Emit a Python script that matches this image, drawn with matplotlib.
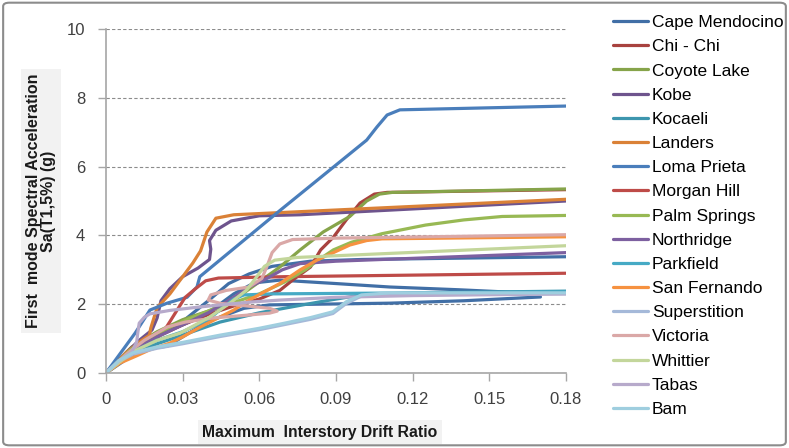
import matplotlib.pyplot as plt
from matplotlib.patches import FancyBboxPatch

plt.rcParams['font.family'] = ['Liberation Sans', 'DejaVu Sans']

# ---- data (drift ratio, Sa in g) ----
cape_x = [0, 0.01, 0.02, 0.03, 0.04, 0.048, 0.056, 0.065, 0.08, 0.1, 0.18]
cape_y = [0, 0.7, 1.1, 1.5, 2.1, 2.6, 2.88, 3.1, 3.25, 3.3, 3.38]
chichi_x = [0, 0.01, 0.02, 0.03, 0.04, 0.05, 0.06, 0.068, 0.073, 0.08, 0.084, 0.089, 0.094, 0.0994, 0.105, 0.11, 0.18]
chichi_y = [0, 0.6, 1.05, 1.4, 1.7, 1.95, 2.15, 2.4, 2.7, 3.08, 3.58, 3.95, 4.45, 4.94, 5.2, 5.25, 5.33]
coyote_x = [0, 0.01, 0.02, 0.03, 0.04, 0.05, 0.06, 0.068, 0.076, 0.085, 0.0954, 0.102, 0.107, 0.112, 0.18]
coyote_y = [0, 0.75, 1.2, 1.55, 1.8, 2.12, 2.65, 3.08, 3.58, 4.1, 4.55, 5.0, 5.2, 5.25, 5.35]
kobe_x = [0, 0.008, 0.013, 0.018, 0.02, 0.0215, 0.025, 0.03, 0.036, 0.0405, 0.041, 0.0405, 0.043, 0.049, 0.06, 0.076, 0.18]
kobe_y = [0, 0.6, 0.95, 1.25, 1.6, 2.1, 2.45, 2.8, 3.05, 3.3, 3.6, 3.85, 4.15, 4.42, 4.57, 4.6, 5.0]
kocaeli_x = [0, 0.01, 0.02, 0.03, 0.0446, 0.06, 0.077, 0.0876, 0.1, 0.12, 0.18]
kocaeli_y = [0, 0.55, 0.85, 1.1, 1.48, 1.75, 1.98, 2.12, 2.27, 2.33, 2.38]
landers_x = [0, 0.008, 0.014, 0.017, 0.0175, 0.02, 0.025, 0.029, 0.034, 0.037, 0.0395, 0.043, 0.05, 0.076, 0.18]
landers_y = [0, 0.6, 0.95, 1.1, 1.3, 1.9, 2.3, 2.7, 3.2, 3.55, 4.1, 4.5, 4.6, 4.69, 5.05]
loma_x = [0, 0.0114, 0.0172, 0.0239, 0.0317, 0.0356, 0.0367, 0.068, 0.102, 0.106, 0.11, 0.115, 0.18]
loma_y = [0, 1.16, 1.83, 2.03, 2.2, 2.5, 2.8, 4.72, 6.77, 7.15, 7.5, 7.65, 7.76]
morgan_x = [0, 0.008, 0.015, 0.019, 0.0225, 0.0254, 0.028, 0.031, 0.035, 0.039, 0.044, 0.07, 0.18]
morgan_y = [0, 0.5, 0.8, 0.96, 1.2, 1.54, 1.85, 2.2, 2.45, 2.68, 2.76, 2.8, 2.9]
palm_x = [0, 0.01, 0.02, 0.03, 0.04, 0.05, 0.06, 0.07, 0.078, 0.083, 0.089, 0.096, 0.108, 0.125, 0.14, 0.155, 0.18]
palm_y = [0, 0.7, 1.15, 1.5, 1.8, 2.05, 2.3, 2.65, 3.0, 3.28, 3.58, 3.8, 4.05, 4.3, 4.45, 4.55, 4.58]
north_x = [0, 0.01, 0.02, 0.03, 0.04, 0.05, 0.056, 0.063, 0.069, 0.076, 0.09, 0.18]
north_y = [0, 0.65, 1.05, 1.4, 1.75, 2.2, 2.5, 2.75, 3.0, 3.18, 3.25, 3.5]
park_x = [0, 0.01, 0.02, 0.03, 0.04, 0.046, 0.05, 0.054, 0.065, 0.18]
park_y = [0, 0.6, 0.95, 1.2, 1.55, 1.92, 2.15, 2.27, 2.3, 2.36]
sanfer_x = [0, 0.0055, 0.012, 0.017, 0.025, 0.03, 0.037, 0.05, 0.056, 0.068, 0.076, 0.0825, 0.089, 0.0954, 0.102, 0.108, 0.18]
sanfer_y = [0, 0.29, 0.5, 0.67, 0.87, 1.05, 1.34, 1.83, 2.12, 2.6, 3.0, 3.28, 3.5, 3.72, 3.85, 3.9, 3.96]
super_x = [0, 0.005, 0.0106, 0.02, 0.03, 0.0446, 0.06, 0.07, 0.08, 0.0888, 0.094, 0.1, 0.111, 0.18]
super_y = [0, 0.33, 0.55, 0.72, 0.85, 1.06, 1.26, 1.41, 1.56, 1.73, 2.02, 2.24, 2.3, 2.3]
victoria_x = [0, 0.008, 0.015, 0.024, 0.031, 0.042, 0.055, 0.064, 0.067, 0.064, 0.055, 0.045, 0.04, 0.041, 0.047,
              0.056, 0.061, 0.063, 0.065, 0.068, 0.073, 0.09, 0.18]
victoria_y = [0, 0.55, 0.95, 1.34, 1.48, 1.6, 1.68, 1.74, 1.8, 1.88, 1.95, 2.02, 2.12, 2.27, 2.4,
              2.5, 2.75, 3.1, 3.5, 3.75, 3.88, 3.92, 4.02]
whittier_x = [0, 0.01, 0.02, 0.029, 0.04, 0.0485, 0.055, 0.059, 0.062, 0.066, 0.075, 0.18]
whittier_y = [0, 0.6, 0.95, 1.16, 1.6, 2.03, 2.41, 2.8, 3.1, 3.28, 3.36, 3.7]
tabas_x = [0, 0.005, 0.01, 0.012, 0.0125, 0.013, 0.015, 0.0172, 0.025, 0.0367, 0.056, 0.068, 0.09, 0.12, 0.18]
tabas_y = [0, 0.35, 0.6, 0.9, 1.2, 1.45, 1.62, 1.72, 1.82, 1.92, 2.06, 2.12, 2.2, 2.25, 2.3]
bam_x = [0, 0.005, 0.0106, 0.02, 0.03, 0.0446, 0.06, 0.07, 0.08, 0.0888, 0.094, 0.1, 0.111, 0.18]
bam_y = [0, 0.36, 0.59, 0.76, 0.89, 1.1, 1.3, 1.45, 1.61, 1.78, 2.07, 2.27, 2.33, 2.33]
# two unlabelled dark blue curves in the original
extra1_x = [0, 0.01, 0.02, 0.03, 0.04, 0.05, 0.058, 0.068, 0.09, 0.111, 0.138, 0.158, 0.18]
extra1_y = [0, 0.65, 1.1, 1.4, 1.75, 2.3, 2.62, 2.7, 2.6, 2.5, 2.42, 2.35, 2.33]
extra2_x = [0, 0.01, 0.015, 0.024, 0.03, 0.04, 0.054, 0.064, 0.111, 0.14, 0.17]
extra2_y = [0, 0.5, 0.7, 0.78, 1.05, 1.5, 1.88, 1.98, 2.03, 2.1, 2.21]

names = ['Cape Mendocino', 'Chi - Chi', 'Coyote Lake', 'Kobe', 'Kocaeli', 'Landers',
         'Loma Prieta', 'Morgan Hill', 'Palm Springs', 'Northridge', 'Parkfield',
         'San Fernando', 'Superstition', 'Victoria', 'Whittier', 'Tabas', 'Bam']
xs = [cape_x, chichi_x, coyote_x, kobe_x, kocaeli_x, landers_x, loma_x, morgan_x, palm_x,
      north_x, park_x, sanfer_x, super_x, victoria_x, whittier_x, tabas_x, bam_x]
ys = [cape_y, chichi_y, coyote_y, kobe_y, kocaeli_y, landers_y, loma_y, morgan_y, palm_y,
      north_y, park_y, sanfer_y, super_y, victoria_y, whittier_y, tabas_y, bam_y]
colors = ['#416FA6', '#A8423F', '#86A44A', '#6E548D', '#3D96AE', '#DA8137',
          '#4A7EBB', '#BE4B48', '#98B954', '#7D60A0', '#46AAC5', '#F69240',
          '#A5B9D9', '#DAA8A7', '#C3D69B', '#B7AACB', '#9FCEDF']

fig = plt.figure(figsize=(7.89, 4.48), dpi=100)
ax = fig.add_axes([106 / 789, 1 - 373 / 448, 460 / 789, 344 / 448])

# outer chart border
fig.patches.append(FancyBboxPatch((0.004, 0.006), 0.992, 0.988, boxstyle='round,pad=0,rounding_size=0.008',
                                  transform=fig.transFigure, fill=False, edgecolor='#8C8C8C', linewidth=1.5))

ax.plot(extra1_x, extra1_y, color='#416FA6', lw=2.3, solid_joinstyle='round', solid_capstyle='round')
ax.plot(extra2_x, extra2_y, color='#416FA6', lw=2.3, solid_joinstyle='round', solid_capstyle='round')
for n, x, y, c in zip(names, xs, ys, colors):
    ax.plot(x, y, color=c, lw=2.3, label=n, solid_joinstyle='round', solid_capstyle='round')

ax.set_xlim(0, 0.18)
ax.set_ylim(0, 10)
ax.set_xticks([0, 0.03, 0.06, 0.09, 0.12, 0.15, 0.18])
ax.set_xticklabels(['0', '0.03', '0.06', '0.09', '0.12', '0.15', '0.18'])
ax.set_yticks([0, 2, 4, 6, 8, 10])
ax.yaxis.grid(True, color='#8C8C8C', linestyle=(0, (3, 2)), linewidth=0.8)
ax.set_axisbelow(True)

for s in ['top', 'right']:
    ax.spines[s].set_visible(False)
for s in ['left', 'bottom']:
    ax.spines[s].set_color('#A6A6A6')
    ax.spines[s].set_linewidth(1.2)
ax.tick_params(axis='both', colors='#A6A6A6', labelcolor='#404040', labelsize=12, length=6, width=1)
ax.tick_params(axis='x', pad=8)
ax.tick_params(axis='y', pad=9)

fig.text(41 / 789, 1 - 201 / 448, 'First  mode Spectral Acceleration\nSa(T1,5%) (g)', rotation=90,
         ha='center', va='center', fontsize=11.5, fontweight='bold', color='#1A1A1A', linespacing=1.05,
         bbox=dict(boxstyle='square,pad=0.3', facecolor='#F2F2F2', edgecolor='none'))
fig.text(320 / 789, 1 - 432 / 448, 'Maximum  Interstory Drift Ratio', ha='center', va='center',
         fontsize=11.3, fontweight='bold', color='#1A1A1A',
         bbox=dict(boxstyle='square,pad=0.3', facecolor='#F2F2F2', edgecolor='none'))

fig.legend(loc='upper left', bbox_to_anchor=(613 / 789, 1 - 15 / 448), frameon=False,
           fontsize=12.5, handlelength=2.0, handletextpad=0.25, labelspacing=0.52,
           borderaxespad=0, borderpad=0)

fig.savefig('out.png', dpi=100)
